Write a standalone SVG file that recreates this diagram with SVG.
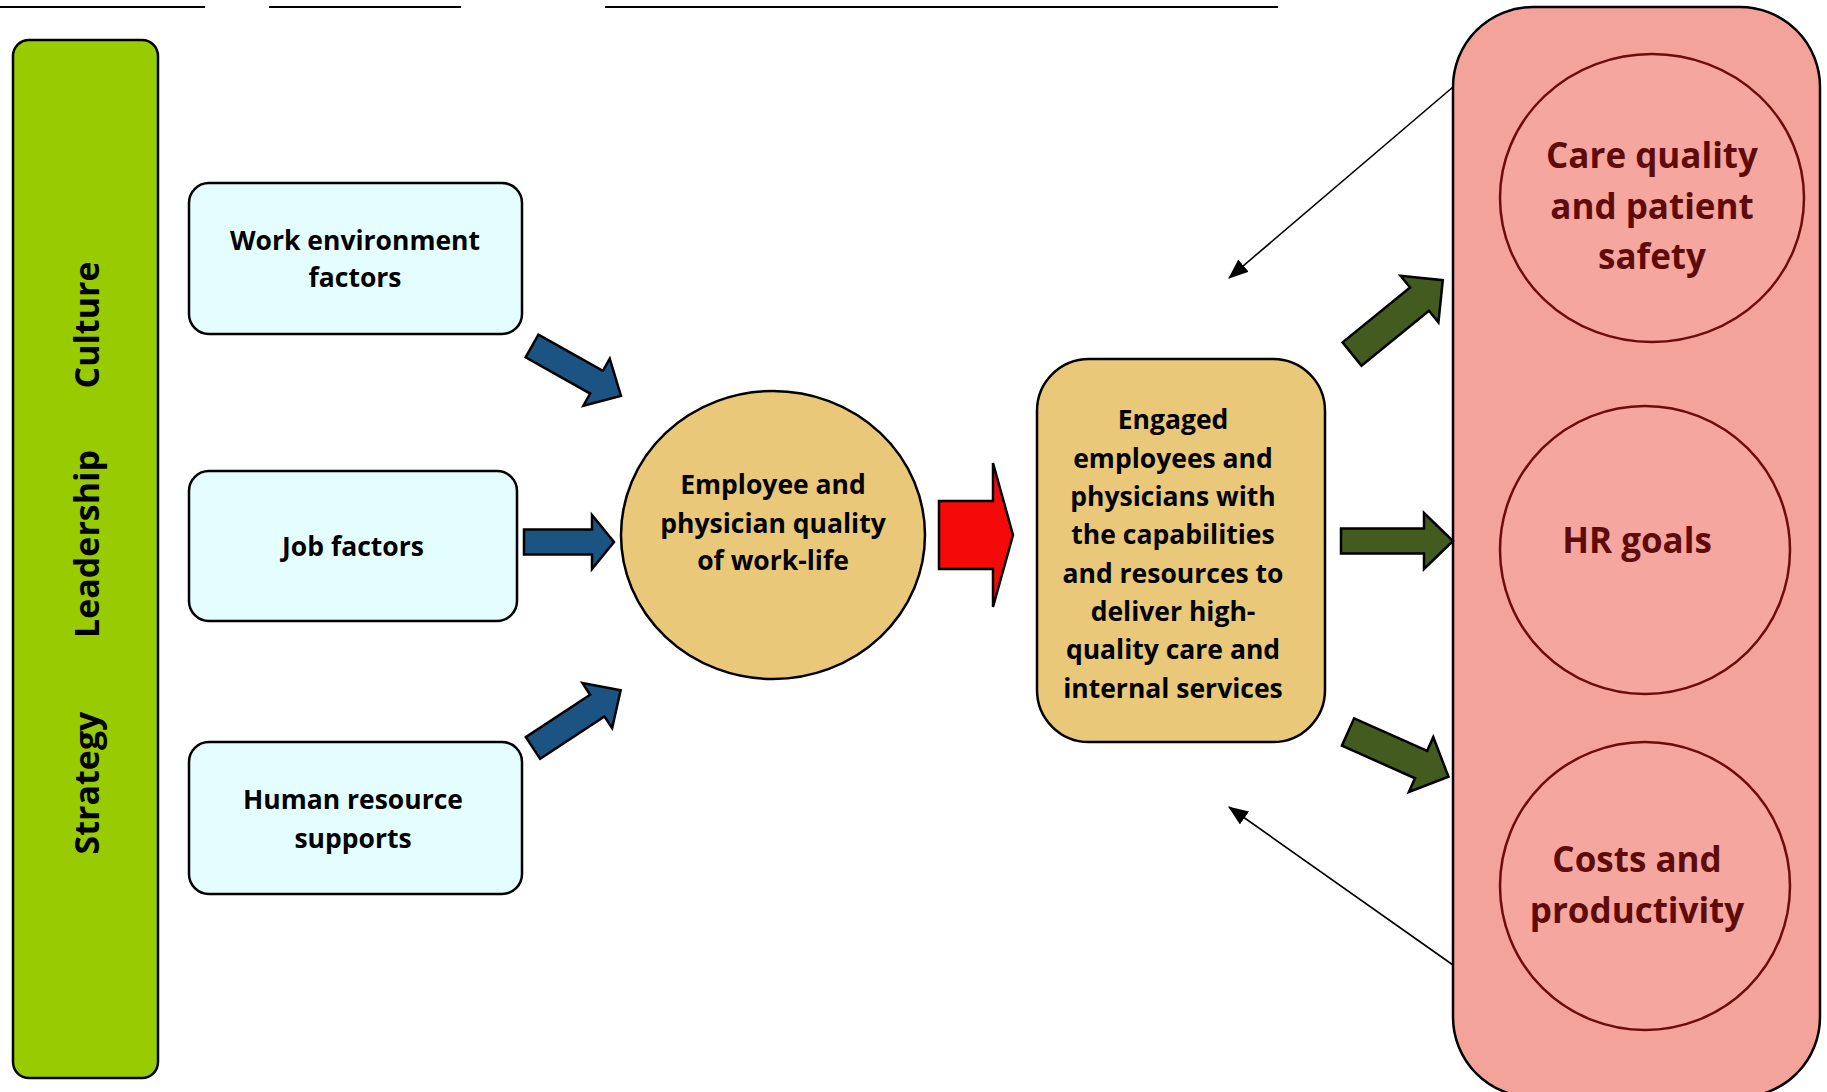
<svg xmlns="http://www.w3.org/2000/svg" width="1827" height="1092" viewBox="0 0 1827 1092">
<style>
.t{font-family:"Open Sans","Liberation Sans",sans-serif;font-weight:700;text-anchor:middle;fill:#000}
.side{font-size:34px}
.box{fill:#e4feff;stroke:#000;stroke-width:2.5}
.tan{fill:#e9c879;stroke:#000;stroke-width:2.5}
.bt{font-size:26.5px}
.pt{font-size:35px;fill:#5e0b0b}
.pc{fill:#f5a69e;stroke:#6b0d0d;stroke-width:2.5}
.blue{fill:#1b5482;stroke:#000;stroke-width:2.5;stroke-linejoin:miter}
.green{fill:#435b1f;stroke:#000;stroke-width:2.5}
.red{fill:#f50a0a;stroke:#000;stroke-width:2.5}
.thin{stroke:#000;stroke-width:1.6;fill:none}
</style>
<defs>
<marker id="ah2" viewBox="0 0 20 16" refX="19" refY="8" markerWidth="20" markerHeight="16" orient="auto" markerUnits="userSpaceOnUse">
<path d="M0,0 L20,8 L0,16 Z" fill="#000"/>
</marker>
</defs>
<rect width="1827" height="1092" fill="#fff"/>
<g id="toplines" stroke="#000" stroke-width="2">
<line x1="0" y1="7" x2="205" y2="7"/>
<line x1="269" y1="7" x2="461" y2="7"/>
<line x1="605" y1="7" x2="1278" y2="7"/>
</g>
<g id="sidebar">
<rect x="13" y="40" width="145" height="1038" rx="16" fill="#99cc00" stroke="#000" stroke-width="2.5"/>
<text class="t side" transform="translate(99,325) rotate(-90)">Culture</text>
<text class="t side" transform="translate(99,544) rotate(-90)">Leadership</text>
<text class="t side" transform="translate(99,783) rotate(-90)">Strategy</text>
</g>
<g id="work-env">
<rect class="box" x="189" y="183" width="333" height="151" rx="20"/>
<text class="t bt" x="355" y="250">Work environment</text>
<text class="t bt" x="355" y="287">factors</text>
</g>
<g id="job-factors">
<rect class="box" x="189" y="471" width="328" height="150" rx="20"/>
<text class="t bt" x="353" y="556">Job factors</text>
</g>
<g id="hr-supports">
<rect class="box" x="189" y="742" width="333" height="152" rx="20"/>
<text class="t bt" x="353" y="809">Human resource</text>
<text class="t bt" x="353" y="848">supports</text>
</g>
<g id="qwl">
<ellipse class="tan" cx="773" cy="535" rx="152" ry="144"/>
<text class="t bt" x="773" y="494">Employee and</text>
<text class="t bt" x="773" y="533">physician quality</text>
<text class="t bt" x="773" y="570">of work-life</text>
</g>
<g id="engaged">
<rect class="tan" x="1037" y="359" width="288" height="383" rx="52"/>
<text class="t bt" x="1173" y="429">Engaged</text>
<text class="t bt" x="1173" y="468">employees and</text>
<text class="t bt" x="1173" y="506">physicians with</text>
<text class="t bt" x="1173" y="544">the capabilities</text>
<text class="t bt" x="1173" y="583">and resources to</text>
<text class="t bt" x="1173" y="621">deliver high-</text>
<text class="t bt" x="1173" y="659">quality care and</text>
<text class="t bt" x="1173" y="698">internal services</text>
</g>
<g id="outcomes">
<rect x="1453" y="7" width="367" height="1090" rx="80" fill="#f4a39a" stroke="#000" stroke-width="2.5"/>
</g>
<g id="care-quality">
<ellipse class="pc" cx="1652" cy="198" rx="152" ry="144"/>
<text class="t pt" x="1652" y="168">Care quality</text>
<text class="t pt" x="1652" y="219">and patient</text>
<text class="t pt" x="1652" y="269">safety</text>
</g>
<g id="hr-goals">
<ellipse class="pc" cx="1645" cy="550" rx="145" ry="144"/>
<text class="t pt" x="1637" y="553">HR goals</text>
</g>
<g id="costs">
<ellipse class="pc" cx="1645" cy="886" rx="145" ry="144"/>
<text class="t pt" x="1637" y="872">Costs and</text>
<text class="t pt" x="1637" y="923">productivity</text>
</g>
<g id="connectors">
<polygon class="blue" transform="translate(532,346) rotate(29.3)" points="0,-13 74,-13 74,-27 102,0 74,27 74,13 0,13"/>
<polygon class="blue" transform="translate(524,542)" points="0,-12.5 68,-12.5 68,-27 90,0 68,27 68,12.5 0,12.5"/>
<polygon class="blue" transform="translate(533,748) rotate(-33.4)" points="0,-13 77,-13 77,-27 105,0 77,27 77,13 0,13"/>
<polygon class="red" transform="translate(939,535)" points="0,-34 54,-34 54,-72 74,0 54,72 54,34 0,34"/>
<polygon class="green" transform="translate(1352,354) rotate(-39.1)" points="0,-15 87,-15 87,-30 117,0 87,30 87,15 0,15"/>
<polygon class="green" transform="translate(1341,541)" points="0,-12.5 83,-12.5 83,-28 112,0 83,28 83,12.5 0,12.5"/>
<polygon class="green" transform="translate(1348,732) rotate(24)" points="0,-15 80,-15 80,-30 110,0 80,30 80,15 0,15"/>
<line class="thin" x1="1453" y1="87" x2="1229" y2="278" marker-end="url(#ah2)"/>
<line class="thin" x1="1453" y1="965" x2="1229" y2="807" marker-end="url(#ah2)"/>
</g>
</svg>
